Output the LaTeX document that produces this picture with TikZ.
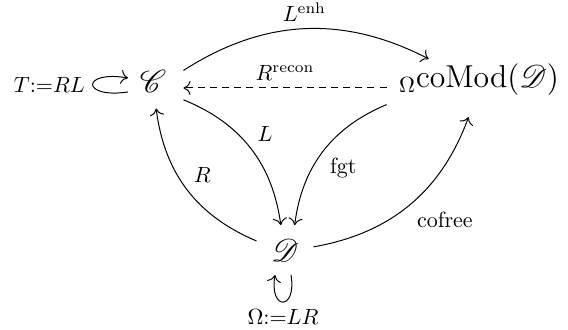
\documentclass[tikz,border=0pt]{standalone}
\usepackage{mathrsfs}
\usetikzlibrary{arrows.meta}
\tikzset{
  >={Computer Modern Rightarrow[length=3.2pt,width=6.4pt]},
  obj/.style={inner sep=0pt,font=\Large,minimum width=27.3pt,minimum height=18.2pt},
  lbl/.style={auto,inner sep=3pt},
  map/.style={->,line width=0.45pt},
  dmap/.style={map,dash pattern=on 3.2pt off 2.3pt},
}
\begin{document}
\begin{tikzpicture}[x=0.4545pt,y=0.4545pt]
  \useasboundingbox (0,0) rectangle (568,330);
  % objects
  \node[obj,text height=9pt,text depth=4.6pt] (C) at (153,242) {$\mathscr{C}$};
  \node[obj,minimum width=25.5pt,minimum height=24pt,text height=9pt,text depth=0pt] (D) at (285,78) {$\mathscr{D}$};
  \node[obj,minimum width=83.6pt,minimum height=26pt,text height=8pt,text depth=8pt] (coMod) at (479,242) {${}_{\Omega}\mathrm{coMod}(\mathscr{D})$};
  % maps
  \draw[map] (C) to[bend left=30] node[lbl]{$L^{\mathrm{enh}}$} (coMod);
  \draw[dmap] (coMod) -- node[lbl,swap]{$R^{\mathrm{recon}}$} (C);
  \draw[map] (C) to[bend left=30] node[lbl]{$L$} (D);
  \draw[map] (D) to[bend left=30] node[lbl,swap]{$R$} (C);
  \draw[map] (coMod) to[bend right=30] node[lbl]{$\mathrm{fgt}$} (D);
  \draw[map] (D) to[bend right=30] node[lbl,swap]{$\mathrm{cofree}$} (coMod);
  % monads
  \draw[map] ([shift={(-25,-4)}]C.center) .. controls +(-47,-7) and +(-47,8) .. ([shift={(-25,10)}]C.center)
    node[pos=.5,left]{$T{:=}RL$};
  \draw[map] ([shift={(6,-23)}]D.center) .. controls +(6,-36) and +(-6,-36) .. ([shift={(-10,-23)}]D.center)
    node[pos=.5,below]{$\Omega{:=}LR$};
\end{tikzpicture}
\end{document}
